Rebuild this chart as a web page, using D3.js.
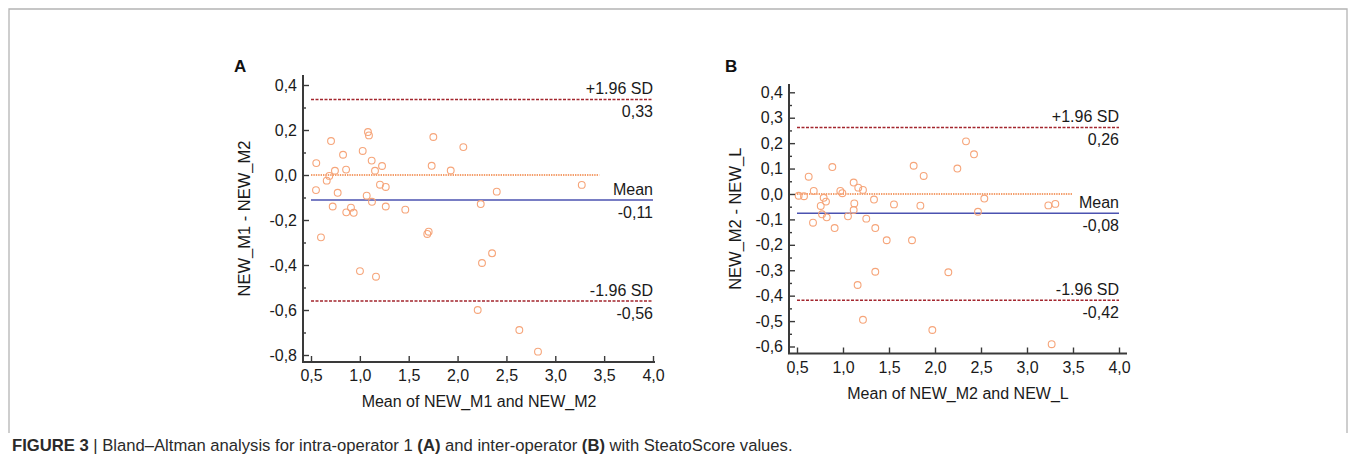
<!DOCTYPE html>
<html>
<head>
<meta charset="utf-8">
<script src="https://cdn.jsdelivr.net/npm/d3@7"></script>
<style>
  body { margin: 0; background: #fff; }
  svg { display: block; font-family: Arial, "Liberation Sans", sans-serif; }
</style>
</head>
<body>
<svg id="chart" width="1355" height="473"></svg>
<script>
// panel A: intra-operator 1 (mean of M1,M2 vs difference)
var aMeans = [0.554,0.551,0.602,0.661,0.687,0.705,0.722,0.745,0.773,0.828,0.859,0.861,0.909,0.937,
              1.029,1.070,1.083,1.093,1.121,1.124,1.155,1.206,1.227,1.265,1.265,1.465,1.690,1.704,
              1.735,1.752,1.930,2.059,2.237,2.401,3.271,1.001,1.165,2.353,2.250,2.206,2.632,2.823];
var aDiffs = [0.053,-0.067,-0.277,-0.025,-0.004,0.151,-0.140,0.019,-0.079,0.090,0.024,-0.166,-0.145,-0.168,
              0.107,-0.092,0.191,0.176,0.064,-0.119,0.019,-0.043,0.040,-0.053,-0.140,-0.154,-0.262,-0.252,
              0.041,0.169,0.020,0.124,-0.129,-0.074,-0.044,-0.427,-0.452,-0.348,-0.391,-0.600,-0.689,-0.785];
var aStats = [0.336, -0.111, -0.560];      // +1.96 SD, mean, -1.96 SD
var aStatText = ["0,33", "-0,11", "-0,56"];
var aZeroEnd = 3.45;

// panel B: inter-operator (mean of M2,L vs difference)
var bMeans = [0.518,0.576,0.627,0.682,0.674,0.758,0.772,0.790,0.815,0.823,0.884,0.909,0.971,0.993,
              1.054,1.116,1.123,1.116,1.166,1.217,1.253,1.337,1.351,1.554,1.475,1.750,1.768,1.841,
              1.351,1.159,1.217,1.877,2.337,2.424,2.243,2.536,2.467,3.232,3.308,2.145,1.971,3.268];
var bDiffs = [-0.007,-0.009,0.068,0.012,-0.113,-0.047,-0.080,-0.015,-0.030,-0.092,0.106,-0.134,0.012,0.003,
              -0.088,0.045,-0.037,-0.063,0.025,0.016,-0.097,-0.022,-0.134,-0.041,-0.182,-0.182,0.111,-0.046,
              -0.306,-0.358,-0.495,0.071,0.207,0.156,0.100,-0.018,-0.070,-0.045,-0.039,-0.308,-0.535,-0.591];
var bStats = [0.262, -0.076, -0.418];
var bStatText = ["0,26", "-0,08", "-0,42"];
var bZeroEnd = 3.49;

var statNames = ["+1.96 SD", "Mean", "-1.96 SD"];
var xTicks = [0.5, 1.0, 1.5, 2.0, 2.5, 3.0, 3.5, 4.0];
var aYTicks = [-0.8, -0.6, -0.4, -0.2, 0.0, 0.2, 0.4];
var aYMinor = [-0.7, -0.5, -0.3, -0.1, 0.1, 0.3];
var bYTicks = [-0.6, -0.5, -0.4, -0.3, -0.2, -0.1, 0.0, 0.1, 0.2, 0.3, 0.4];
var bYMinor = [-0.55, -0.45, -0.35, -0.25, -0.15, -0.05, 0.05, 0.15, 0.25, 0.35];

var svg = d3.select("#chart");
var fmt = function(d) { return d.toFixed(1).replace(".", ","); };

// figure frame (open at the bottom)
svg.append("path")
    .attr("d", "M9,433 V9 H1347 V433")
    .attr("fill", "none")
    .attr("stroke", "#b4b4b4")
    .attr("stroke-width", 1.3);

function panel(opt) {
    var x = d3.scaleLinear().domain([0.5, 4.0]).range(opt.xr);
    var y = d3.scaleLinear().domain(opt.yd).range(opt.yr);
    var g = svg.append("g");

    // reference lines
    g.append("line")
        .attr("x1", x(0.5)).attr("x2", x(opt.zeroEnd))
        .attr("y1", y(0)).attr("y2", y(0))
        .attr("stroke", "#f07f3c").attr("stroke-width", 1.4)
        .attr("stroke-dasharray", "1.4,1");
    opt.stats.forEach(function(v, i) {
        var ln = g.append("line")
            .attr("x1", x(0.5)).attr("x2", x(4.0))
            .attr("y1", y(v)).attr("y2", y(v));
        if (i == 1) {
            ln.attr("stroke", "#4b52b0").attr("stroke-width", 1.6);
        } else {
            ln.attr("stroke", "#a3262e").attr("stroke-width", 1.5)
              .attr("stroke-dasharray", "3,1.5");
        }
        g.append("text")
            .attr("x", x(4.0)).attr("y", y(v) - 5)
            .attr("text-anchor", "end")
            .attr("font-size", 16).attr("fill", "#1a1a1a")
            .text(statNames[i]);
        g.append("text")
            .attr("x", x(4.0)).attr("y", y(v) + 18)
            .attr("text-anchor", "end")
            .attr("font-size", 16).attr("fill", "#1a1a1a")
            .text(opt.statText[i]);
    });

    // points
    g.selectAll("circle.pt")
        .data(opt.means.map(function(m, i) { return [m, opt.diffs[i]]; }))
        .enter().append("circle")
        .attr("class", "pt")
        .attr("cx", function(d) { return x(d[0]); })
        .attr("cy", function(d) { return y(d[1]); })
        .attr("r", 3.4)
        .attr("fill", "none")
        .attr("stroke", "#f6a57a")
        .attr("stroke-width", 1.1);

    // axes, ticks pointing inward
    var yAx = g.append("g")
        .attr("transform", "translate(" + opt.axX + ",0)")
        .call(d3.axisLeft(y).tickValues(opt.yTicks).tickSize(-6).tickPadding(6).tickFormat(fmt));
    var yMin = g.append("g")
        .attr("transform", "translate(" + opt.axX + ",0)")
        .call(d3.axisLeft(y).tickValues(opt.yMinor).tickSize(-3).tickFormat(""));
    var xAx = g.append("g")
        .attr("transform", "translate(0," + opt.axY + ")")
        .call(d3.axisBottom(x).tickValues(xTicks).tickSize(-6).tickPadding(8).tickFormat(fmt));
    [yAx, yMin, xAx].forEach(function(a) {
        a.select(".domain").remove();
        a.selectAll(".tick line").attr("stroke", "#3a3a3a").attr("stroke-width", 1.4);
        a.selectAll(".tick text").attr("font-size", 16).attr("fill", "#1a1a1a")
            .attr("font-family", "Arial, 'Liberation Sans', sans-serif");
    });
    g.append("path")
        .attr("d", "M" + opt.axX + "," + opt.yTop + " V" + opt.axY + " H" + opt.xEnd)
        .attr("fill", "none")
        .attr("stroke", "#3a3a3a")
        .attr("stroke-width", 2);

    // axis titles
    g.append("text")
        .attr("x", (opt.axX + opt.xEnd) / 2).attr("y", opt.axY + 45)
        .attr("text-anchor", "middle").attr("font-size", 16).attr("fill", "#1a1a1a")
        .text(opt.xTitle);
    g.append("text")
        .attr("transform", "translate(" + opt.yTitleX + "," + (opt.yTop + opt.axY) / 2 + ") rotate(-90)")
        .attr("text-anchor", "middle").attr("dy", "0.35em")
        .attr("font-size", 16.5).attr("fill", "#1a1a1a")
        .text(opt.yTitle);

    // panel letter
    g.append("text")
        .attr("x", opt.letterX).attr("y", 72)
        .attr("font-size", 17).attr("font-weight", "bold").attr("fill", "#111")
        .text(opt.letter);
}

panel({
    means: aMeans, diffs: aDiffs, stats: aStats, statText: aStatText, zeroEnd: aZeroEnd,
    xr: [311, 653], yd: [-0.8, 0.4], yr: [355, 85],
    axX: 303, axY: 362, yTop: 75, xEnd: 655,
    yTicks: aYTicks, yMinor: aYMinor,
    xTitle: "Mean of NEW_M1 and NEW_M2", yTitle: "NEW_M1 - NEW_M2", yTitleX: 244,
    letter: "A", letterX: 234
});

panel({
    means: bMeans, diffs: bDiffs, stats: bStats, statText: bStatText, zeroEnd: bZeroEnd,
    xr: [797, 1119], yd: [-0.6, 0.4], yr: [346.5, 92.3],
    axX: 789, axY: 353.5, yTop: 84, xEnd: 1127,
    yTicks: bYTicks, yMinor: bYMinor,
    xTitle: "Mean of NEW_M2 and NEW_L", yTitle: "NEW_M2 - NEW_L", yTitleX: 735,
    letter: "B", letterX: 725
});

// caption
var cap = svg.append("text")
    .attr("x", 12).attr("y", 451)
    .attr("font-family", "'Liberation Sans Narrow', 'Arial Narrow', Arial, sans-serif")
    .attr("font-size", 15).attr("fill", "#2a2a2a");
var parts = [["FIGURE 3", true], [" | Bland\u2013Altman analysis for intra-operator 1 ", false],
             ["(A)", true], [" and inter-operator ", false], ["(B)", true],
             [" with SteatoScore values.", false]];
parts.forEach(function(p) {
    cap.append("tspan").attr("font-weight", p[1] ? "bold" : "normal").text(p[0]);
});
// fit caption width to the reference
var w = cap.node().getComputedTextLength();
cap.attr("font-size", 15 * 781 / w);
</script>
</body>
</html>
